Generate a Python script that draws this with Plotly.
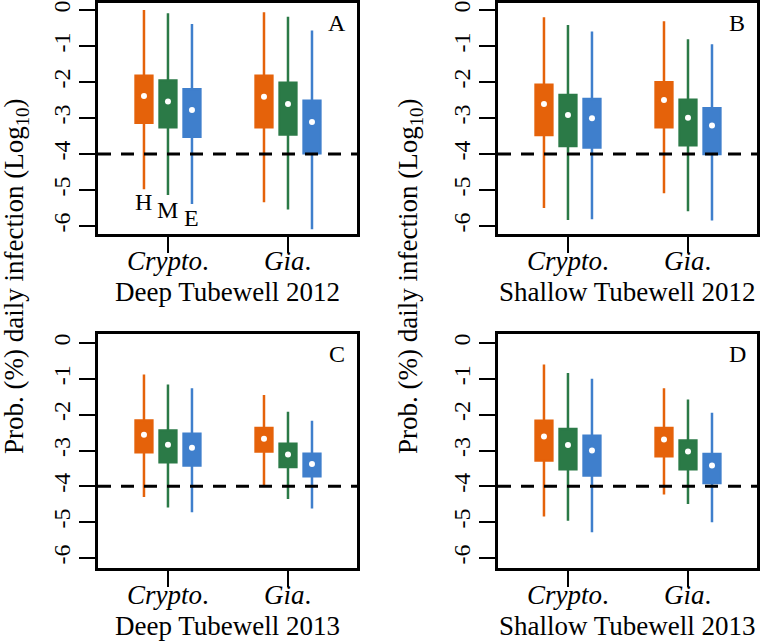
import plotly.graph_objects as go

# ---------------- data ----------------
pathogens = ["<i>Crypto</i>.", "<i>Gia</i>."]
groups = ["H", "M", "E"]
group_colors = ["#E5620A", "#2B7A47", "#3F7FCC"]
panel_titles = ["Deep Tubewell 2012", "Shallow Tubewell 2012",
                "Deep Tubewell 2013", "Shallow Tubewell 2013"]
panel_letters = ["A", "B", "C", "D"]
threshold = -4
y_tick_vals = [0, -1, -2, -3, -4, -5, -6]
y_tick_text = ["0", "-1", "-2", "-3", "-4", "-5", "-6"]

# each panel: [pathogen][group] -> value  (Crypto, Gia) x (H, M, E)
A_upper = [[0.00, -0.09, -0.39], [-0.06, -0.19, -0.57]]
A_q3 = [[-1.83, -1.96, -2.20], [-1.83, -2.02, -2.52]]
A_med = [[-2.39, -2.54, -2.78], [-2.41, -2.61, -3.11]]
A_q1 = [[-3.13, -3.26, -3.52], [-3.26, -3.46, -3.98]]
A_lower = [[-4.98, -5.14, -5.39], [-5.34, -5.54, -6.09]]

B_upper = [[-0.20, -0.42, -0.60], [-0.31, -0.81, -0.95]]
B_q3 = [[-2.08, -2.36, -2.47], [-2.01, -2.49, -2.73]]
B_med = [[-2.61, -2.92, -3.01], [-2.50, -2.99, -3.21]]
B_q1 = [[-3.47, -3.78, -3.82], [-3.26, -3.76, -4.00]]
B_lower = [[-5.50, -5.83, -5.81], [-5.09, -5.59, -5.85]]

C_upper = [[-0.88, -1.16, -1.26], [-1.45, -1.92, -2.17]]
C_q3 = [[-2.16, -2.44, -2.53], [-2.37, -2.81, -3.09]]
C_med = [[-2.56, -2.84, -2.92], [-2.67, -3.11, -3.38]]
C_q1 = [[-3.05, -3.33, -3.42], [-3.03, -3.46, -3.72]]
C_lower = [[-4.30, -4.59, -4.72], [-3.97, -4.35, -4.62]]

D_upper = [[-0.60, -0.84, -1.00], [-1.26, -1.58, -1.95]]
D_q3 = [[-2.17, -2.40, -2.59], [-2.37, -2.72, -3.10]]
D_med = [[-2.61, -2.85, -3.00], [-2.69, -3.03, -3.42]]
D_q1 = [[-3.28, -3.52, -3.70], [-3.16, -3.52, -3.91]]
D_lower = [[-4.84, -4.96, -5.28], [-4.23, -4.49, -5.00]]

panels = [
    (A_upper, A_q3, A_med, A_q1, A_lower),
    (B_upper, B_q3, B_med, B_q1, B_lower),
    (C_upper, C_q3, C_med, C_q1, C_lower),
    (D_upper, D_q3, D_med, D_q1, D_lower),
]

# ---------------- layout helpers ----------------
W, H = 760, 641
FONT = "Liberation Serif"


def px(x):
    return x / W


def py(y):
    return 1 - y / H


col_px = [(98, 357), (498, 757)]
row_px = [(3, 234), (334, 568)]
row_range = [[-6.222, 0.194], [-6.279, 0.251]]
offsets = [-0.2, 0.0, 0.2]

fig = go.Figure()
layout = dict(
    width=W, height=H,
    margin=dict(l=0, r=0, t=0, b=0, autoexpand=False),
    paper_bgcolor="white", plot_bgcolor="white",
    showlegend=False, boxmode="overlay",
    font=dict(family=FONT, size=24, color="black"),
)
annotations = []
shapes = []

for p in range(4):
    r, c = divmod(p, 2)
    ax = "" if p == 0 else str(p + 1)
    xname, yname = "x" + ax, "y" + ax
    upper, q3, med, q1, lower = panels[p]
    for i in range(len(pathogens)):
        for g in range(len(groups)):
            pos = i + 1 + offsets[g]
            fig.add_trace(go.Box(
                x=[pos], q1=[q1[i][g]], median=[med[i][g]], q3=[q3[i][g]],
                lowerfence=[lower[i][g]], upperfence=[upper[i][g]],
                width=0.14, whiskerwidth=0,
                fillcolor=group_colors[g],
                line=dict(color=group_colors[g], width=2.5),
                boxpoints=False, hoverinfo="skip",
                xaxis=xname, yaxis=yname,
            ))
            fig.add_trace(go.Scatter(
                x=[pos], y=[med[i][g]], mode="markers",
                marker=dict(color="white", size=6),
                hoverinfo="skip", xaxis=xname, yaxis=yname,
            ))
    x0, x1 = col_px[c]
    y0, y1 = row_px[r]
    layout["xaxis" + ax] = dict(
        domain=[px(x0), px(x1)], range=[0.417, 2.575],
        tickvals=[1, 2], showticklabels=False,
        ticks="outside", ticklen=16, tickwidth=2, tickcolor="black",
        showline=True, linewidth=2.5, linecolor="black", mirror=True,
        showgrid=False, zeroline=False, anchor=yname, automargin=False,
    )
    layout["yaxis" + ax] = dict(
        domain=[py(y1), py(y0)], range=row_range[r],
        tickvals=y_tick_vals, ticktext=y_tick_text, tickangle=-90,
        ticks="outside", ticklen=16, tickwidth=2, tickcolor="black",
        showline=True, linewidth=2.5, linecolor="black", mirror=True,
        showgrid=False, zeroline=False, anchor=xname, automargin=False,
        tickfont=dict(family=FONT, size=24),
    )
    shapes.append(dict(
        type="line", xref=xname + " domain", yref=yname,
        x0=0, x1=1, y0=threshold, y1=threshold,
        line=dict(color="black", width=3, dash="13px,10px"),
    ))
    # pathogen labels under the ticks
    for i in range(len(pathogens)):
        annotations.append(dict(
            text=pathogens[i], xref=xname, yref="paper",
            x=i + 1, y=py(y1 + 27),
            xanchor="center", yanchor="middle", showarrow=False,
            font=dict(family=FONT, size=27),
        ))
    annotations.append(dict(
        text=panel_titles[p], xref="paper", yref="paper",
        x=px((x0 + x1) / 2), y=py(y1 + 58),
        xanchor="center", yanchor="middle", showarrow=False,
        font=dict(family=FONT, size=27),
    ))
    annotations.append(dict(
        text=panel_letters[p], xref="paper", yref="paper",
        x=px(x1 - 20), y=py(y0 + 20),
        xanchor="center", yanchor="middle", showarrow=False,
        font=dict(family=FONT, size=24),
    ))

# H / M / E labels in panel A
hme_y = [-5.33, -5.55, -5.77]
for g in range(len(groups)):
    annotations.append(dict(
        text=groups[g], xref="x", yref="y",
        x=1 + offsets[g], y=hme_y[g],
        xanchor="center", yanchor="middle", showarrow=False,
        font=dict(family=FONT, size=24),
    ))

# y-axis titles
for xc in (16, 410):
    annotations.append(dict(
        text="Prob. (%) daily infection (Log<sub>10</sub>)",
        xref="paper", yref="paper", x=px(xc), y=py(276),
        xanchor="center", yanchor="middle", textangle=-90,
        showarrow=False, font=dict(family=FONT, size=27),
    ))

layout["annotations"] = annotations
layout["shapes"] = shapes
fig.update_layout(**layout)
fig.write_html(
    "out.html",
    config={"displayModeBar": False},
    post_script="document.body.style.margin='0';document.body.style.overflow='hidden';",
)
